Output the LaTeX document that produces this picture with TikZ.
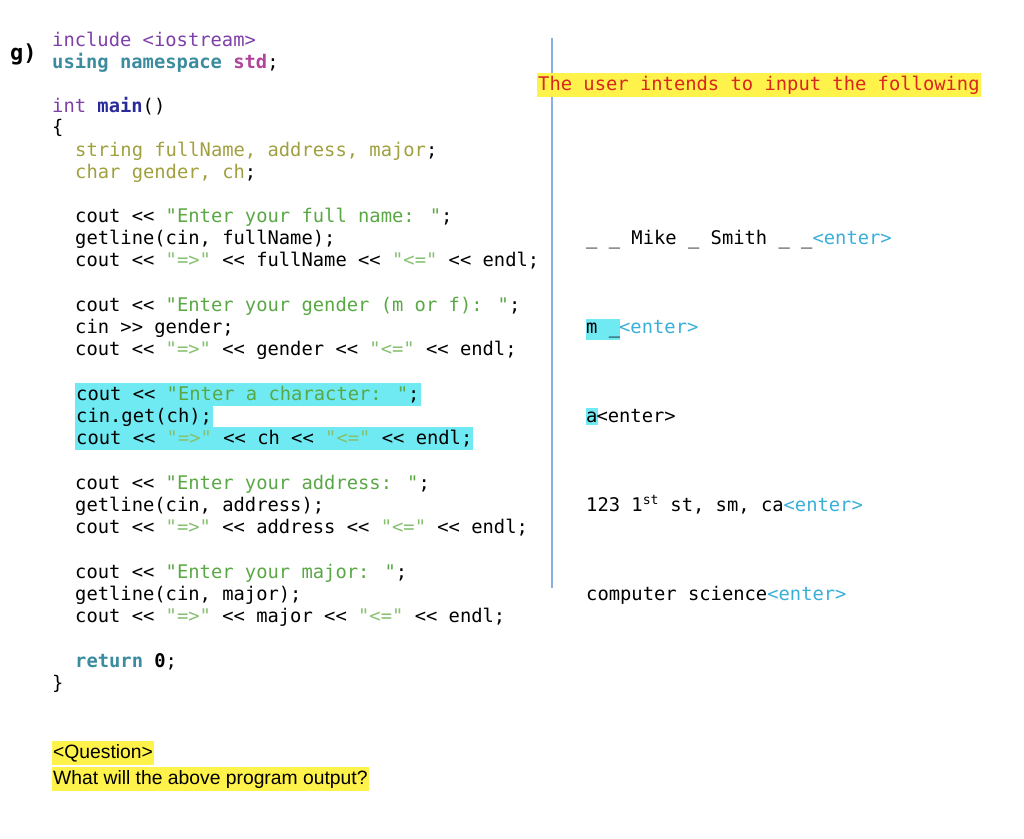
\documentclass[tikz,border=0pt]{standalone}
\usepackage{fontspec}
\setmainfont{Liberation Sans}
\newfontfamily\cf{DejaVu Sans Mono}
\definecolor{kwp}{HTML}{7E3FA8}
\definecolor{tl}{HTML}{3A8C9E}
\definecolor{mg}{HTML}{B0449B}
\definecolor{ol}{HTML}{A0A040}
\definecolor{sg}{HTML}{5AA845}
\definecolor{lg}{HTML}{86C070}
\definecolor{db}{HTML}{2A2A9A}
\definecolor{eb}{HTML}{3AAFD8}
\definecolor{chl}{HTML}{6FEAF2}
\definecolor{yhl}{HTML}{FFF24A}
\definecolor{rt}{HTML}{D8281E}
\definecolor{vl}{HTML}{8AAFE0}
\begin{document}
\begin{tikzpicture}[x=1pt,y=-1pt,
  code/.style={anchor=base west,inner sep=0pt,font=\cf\fontsize{18.8}{20}\selectfont},
  hl/.style={code,fill=chl,inner ysep=3pt,inner xsep=1pt},
  yh/.style={anchor=base west,fill=yhl,inner xsep=1pt,inner ysep=3pt}]
\useasboundingbox (0,0) rectangle (1024,838);
\draw[vl,line width=1.2pt] (552,38) -- (552,588);
\node[code,font=\cf\fontsize{22}{24}\selectfont\bfseries] (g) at (10,60) {g)};
\node[code] (l1) at (52,46) {{\color{kwp}include <iostream>}};
\node[code] (l2) at (52,68) {{\color{tl}\bfseries using namespace {\color{mg}std}};};
\node[code] (l3) at (52,112) {{\color{kwp}int} {\bfseries\color{db}main}()};
\node[code] (l4) at (52,133) {\{};
\node[code] (l5) at (75,156) {{\color{ol}string fullName, address, major};};
\node[code] (l6) at (75,178) {{\color{ol}char gender, ch};};
\node[code] (a1) at (75,222) {cout << {\color{sg}"Enter your full name: "};};
\node[code] (a2) at (75,244) {getline(cin, fullName);};
\node[code] (a3) at (75,266) {cout << {\color{lg}"=>"} << fullName << {\color{lg}"<="} << endl;};
\node[code] (b1) at (75,311) {cout << {\color{sg}"Enter your gender (m or f): "};};
\node[code] (b2) at (75,333) {cin >> gender;};
\node[code] (b3) at (75,355) {cout << {\color{lg}"=>"} << gender << {\color{lg}"<="} << endl;};
\node[hl] (c1) at (75,400) {cout << {\color{sg}"Enter a character: "};};
\node[hl] (c2) at (75,422) {cin.get(ch);};
\node[hl] (c3) at (75,444) {cout << {\color{lg}"=>"} << ch << {\color{lg}"<="} << endl;};
\node[code] (d1) at (75,489) {cout << {\color{sg}"Enter your address: "};};
\node[code] (d2) at (75,511) {getline(cin, address);};
\node[code] (d3) at (75,533) {cout << {\color{lg}"=>"} << address << {\color{lg}"<="} << endl;};
\node[code] (e1) at (75,578) {cout << {\color{sg}"Enter your major: "};};
\node[code] (e2) at (75,600) {getline(cin, major);};
\node[code] (e3) at (75,622) {cout << {\color{lg}"=>"} << major << {\color{lg}"<="} << endl;};
\node[code] (r) at (75,667) {{\color{tl}\bfseries return} {\bfseries 0};};
\node[code] (cl) at (52,689) {\}};
\node[yh,code,inner xsep=1pt,inner ysep=3pt,fill=yhl] (t) at (537,90) {\color{rt}The user intends to input the following};
\node[code] (i1) at (586,244) {\_ \_ Mike \_ Smith \_ \_{\color{eb}<enter>}};
\node[code] (i2m) at (586,333) {\colorbox{chl}{\hspace{-3pt}m \_\hspace{-3pt}}\hspace{-1pt}{\color{eb}<enter>}};
\node[code] (i3) at (586,422) {\colorbox{chl}{\hspace{-3pt}a\hspace{-3pt}}\hspace{-1pt}<enter>};
\node[code] (i4) at (586,511) {123 1\textsuperscript{st} st, sm, ca{\color{eb}<enter>}};
\node[code] (i5) at (586,600) {computer science{\color{eb}<enter>}};
\node[yh,font=\fontsize{19.3}{21}\selectfont] (q1) at (52,758) {<Question>};
\node[yh,font=\fontsize{19.3}{21}\selectfont] (q2) at (52,784) {What will the above program output?};
\end{tikzpicture}
\end{document}
